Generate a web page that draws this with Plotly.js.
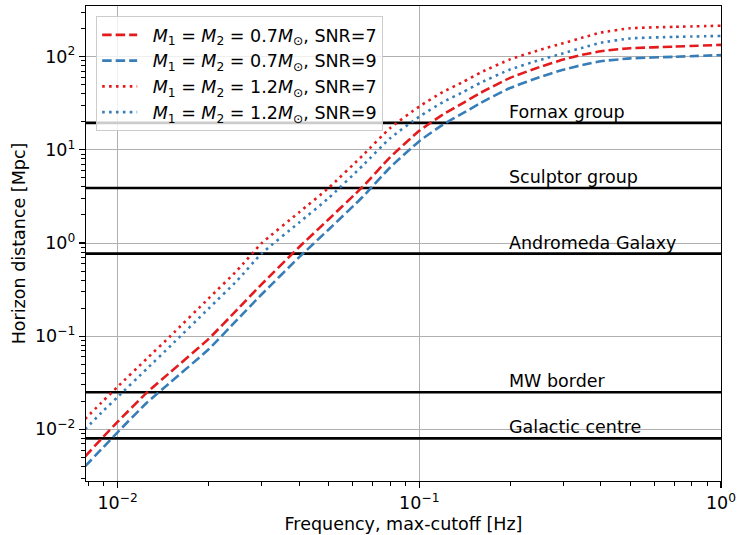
<!DOCTYPE html>
<html>
<head>
<meta charset="utf-8">
<script src="https://cdn.plot.ly/plotly-3.0.1.min.js"></script>
<style>html,body{margin:0;padding:0;background:#fff;}#chart{width:738px;height:535px;}</style>
</head>
<body>
<div id="chart"></div>
<script>
// Frequencies [Hz]
const freq = [0.0078, 0.009, 0.01, 0.0125, 0.015, 0.02, 0.025, 0.03, 0.04, 0.05, 0.065, 0.08, 0.1, 0.12, 0.14, 0.16, 0.2, 0.25, 0.3, 0.35, 0.4, 0.5, 0.7, 1.0];
// Horizon distances [Mpc]
const d07_snr7 = [0.0051, 0.0084, 0.0120, 0.0248, 0.0414, 0.093, 0.195, 0.36, 0.906, 1.79, 4.03, 8.3, 16.0, 24.0, 32.0, 41.1, 59.2, 77.3, 93.1, 105.4, 114.6, 123.3, 128.3, 134];
const d07_snr9 = [0.0040, 0.0065, 0.0093, 0.0193, 0.0322, 0.072, 0.152, 0.28, 0.705, 1.39, 3.14, 6.46, 12.4, 18.7, 24.9, 32.0, 46.1, 60.1, 72.4, 82.0, 89.2, 95.9, 99.8, 104];
const d12_snr7 = [0.0129, 0.0205, 0.0286, 0.0574, 0.101, 0.253, 0.514, 0.99, 2.14, 3.89, 8.74, 17.1, 29.2, 41.9, 53.8, 67.8, 93.6, 118, 139.6, 161.4, 181.3, 202, 209, 215];
const d12_snr9 = [0.0100, 0.0160, 0.0222, 0.0446, 0.079, 0.197, 0.40, 0.77, 1.66, 3.03, 6.80, 13.3, 22.7, 32.6, 41.9, 52.7, 72.8, 91.8, 108.6, 125.6, 141, 157, 163, 167];
const seriesNames = [
  "<i>M</i><sub>1</sub> = <i>M</i><sub>2</sub> = 0.7<i>M</i><sub>⊙</sub>, SNR=7",
  "<i>M</i><sub>1</sub> = <i>M</i><sub>2</sub> = 0.7<i>M</i><sub>⊙</sub>, SNR=9",
  "<i>M</i><sub>1</sub> = <i>M</i><sub>2</sub> = 1.2<i>M</i><sub>⊙</sub>, SNR=7",
  "<i>M</i><sub>1</sub> = <i>M</i><sub>2</sub> = 1.2<i>M</i><sub>⊙</sub>, SNR=9"
];
// Reference distances [Mpc]
const refNames = ["Fornax group", "Sculptor group", "Andromeda Galaxy", "MW border", "Galactic centre"];
const refDist = [19.5, 3.9, 0.77, 0.025, 0.008];
const refLabelFreq = 0.2;

const xRange = [Math.log10(0.00786), 0];
const yRange = [Math.log10(0.00279), Math.log10(350)];
const xLo = Math.pow(10, xRange[0]), xHi = Math.pow(10, xRange[1]);

const RED = "#e41a1c", BLUE = "#377eb8";
const FONT = "DejaVu Sans, sans-serif";
const FS = 17.5;

const traces = [];
refDist.forEach(v => {
  traces.push({x: [xLo, xHi], y: [v, v], mode: "lines", line: {color: "black", width: 2.6}, showlegend: false, hoverinfo: "skip"});
});
const dashed = "9.5px,4px", dotted = "2.6px,4.3px";
const ys = [d07_snr7, d07_snr9, d12_snr7, d12_snr9];
const cols = [RED, BLUE, RED, BLUE];
const dashes = [dashed, dashed, dotted, dotted];
ys.forEach((y, i) => {
  traces.push({x: freq, y: y, name: "\u2002\u200A" + seriesNames[i], mode: "lines",
    line: {color: cols[i], width: 2.6, dash: dashes[i], shape: "spline", smoothing: 0.5}});
});

const minorVals = [];
[0.001, 0.01, 0.1, 1, 10, 100].forEach(d => { for (let k = 2; k <= 9; k++) minorVals.push(d * k); });

const annotations = refNames.map((n, i) => ({
  x: Math.log10(refLabelFreq), y: Math.log10(refDist[i]), xref: "x", yref: "y",
  text: n, showarrow: false, xanchor: "left", yanchor: "bottom", yshift: -1, xshift: -3,
  font: {family: FONT, size: FS, color: "black"}
}));

const axisCommon = {
  type: "log", showline: true, linecolor: "black", linewidth: 1.2, mirror: true,
  ticks: "outside", ticklen: 6, tickwidth: 1.2, tickcolor: "black",
  showgrid: true, gridcolor: "#b0b0b0", gridwidth: 1, zeroline: false,
  tickfont: {family: FONT, size: FS, color: "black"},
  minor: {tickmode: "array", tickvals: minorVals, ticks: "outside", ticklen: 3.5, tickwidth: 1, tickcolor: "black", showgrid: false}
};

const layout = {
  width: 738, height: 535,
  margin: {l: 86, r: 17, t: 6, b: 54},
  paper_bgcolor: "white", plot_bgcolor: "white",
  font: {family: FONT, size: FS, color: "black"},
  xaxis: Object.assign({}, axisCommon, {
    range: xRange, tickmode: "array", tickvals: [0.01, 0.1, 1],
    ticktext: ["10<sup>−2</sup>", "10<sup>−1</sup>", "10<sup>0</sup>"],
    title: {text: "Frequency, max-cutoff [Hz]", font: {family: FONT, size: FS, color: "black"}, standoff: 5}
  }),
  yaxis: Object.assign({}, axisCommon, {
    range: yRange, tickmode: "array", tickvals: [0.01, 0.1, 1, 10, 100],
    ticktext: ["10<sup>−2</sup>", "10<sup>−1</sup>", "10<sup>0</sup>", "10<sup>1</sup>", "10<sup>2</sup>"],
    title: {text: "Horizon distance [Mpc]", font: {family: FONT, size: FS, color: "black"}, standoff: 4}
  }),
  legend: {x: 0.016, y: 0.979, xanchor: "left", yanchor: "top",
    bgcolor: "rgba(255,255,255,0.8)", bordercolor: "#cccccc", borderwidth: 1,
    font: {family: FONT, size: FS, color: "black"}, itemwidth: 35, tracegroupgap: 0},
  annotations: annotations,
  showlegend: true
};

Plotly.newPlot("chart", traces, layout, {staticPlot: true, displayModeBar: false});
</script>
</body>
</html>
